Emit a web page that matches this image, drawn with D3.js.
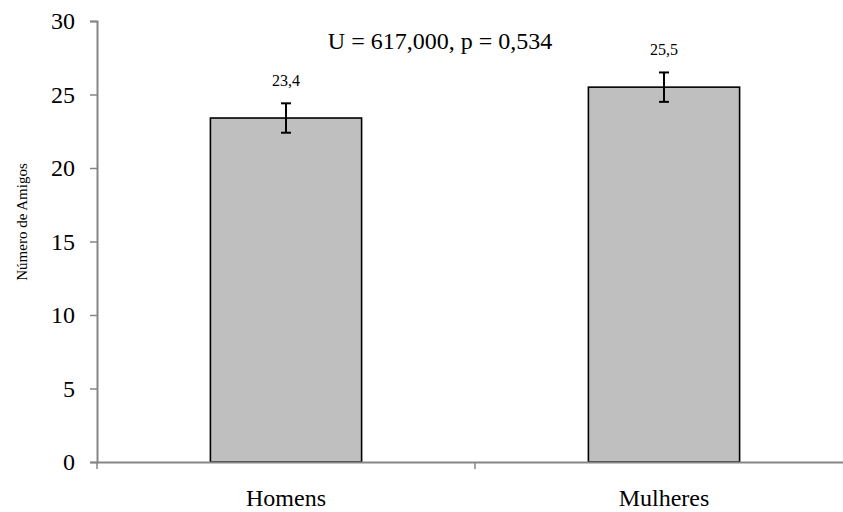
<!DOCTYPE html>
<html>
<head>
<meta charset="utf-8">
<script src="https://cdn.jsdelivr.net/npm/d3@7"></script>
<style>
  body { margin: 0; background: #fff; }
  svg text { font-family: "Liberation Serif", "Times New Roman", serif; fill: #000; }
</style>
</head>
<body>
<div id="chart"></div>
<script>
// dados
var categories = ["Homens", "Mulheres"];
var values = [23.4, 25.5];
var errors = [1.0, 1.0];
var valueLabels = ["23,4", "25,5"];
var yTicks = [0, 5, 10, 15, 20, 25, 30];
var yTitle = "Número de Amigos";
var statText = "U = 617,000, p = 0,534";

var width = 843, height = 512;
var mLeft = 97, mRight = 853, mTop = 21, mBottom = 462;

var svg = d3.select("#chart").append("svg")
  .attr("width", width)
  .attr("height", height);

var x = d3.scaleBand().domain(categories).range([mLeft, mRight]);
var y = d3.scaleLinear().domain([0, 30]).range([mBottom, mTop]);
var barW = x.bandwidth() * 0.4;
var axisColor = "#868686";

// eixo y
var yAxis = svg.append("g")
  .attr("transform", "translate(" + mLeft + ",0)")
  .call(d3.axisLeft(y).tickValues(yTicks).tickSize(7).tickPadding(15));
yAxis.select(".domain").attr("stroke", axisColor).attr("stroke-width", 2);
yAxis.selectAll(".tick line").attr("stroke", axisColor).attr("stroke-width", 1.5);
yAxis.selectAll(".tick text")
  .attr("font-size", 24)
  .attr("font-family", "Liberation Serif")
  .attr("fill", "#000");

// barras
svg.selectAll(".bar")
  .data(values)
  .enter().append("rect")
  .attr("class", "bar")
  .attr("x", function(d, i){ return x(categories[i]) + (x.bandwidth() - barW) / 2; })
  .attr("y", function(d){ return y(d); })
  .attr("width", barW)
  .attr("height", function(d){ return y(0) - y(d); })
  .attr("fill", "#bfbfbf")
  .attr("stroke", "#000")
  .attr("stroke-width", 1.6);

// eixo x
var xAxis = svg.append("g")
  .attr("transform", "translate(0," + mBottom + ")")
  .call(d3.axisBottom(x).tickSize(0).tickPadding(27));
xAxis.select(".domain").attr("stroke", axisColor).attr("stroke-width", 2);
xAxis.selectAll(".tick text")
  .attr("font-size", 24)
  .attr("font-family", "Liberation Serif")
  .attr("fill", "#000");
// marcas entre categorias
var boundaries = [mLeft, x(categories[1])];
svg.selectAll(".xsep")
  .data(boundaries)
  .enter().append("line")
  .attr("x1", function(d){ return d; })
  .attr("x2", function(d){ return d; })
  .attr("y1", mBottom)
  .attr("y2", mBottom + 7)
  .attr("stroke", axisColor)
  .attr("stroke-width", 1.5);

// barras de erro
var eb = svg.selectAll(".err")
  .data(values)
  .enter().append("g")
  .attr("class", "err")
  .attr("transform", function(d, i){ return "translate(" + (x(categories[i]) + x.bandwidth() / 2) + ",0)"; });
eb.append("line")
  .attr("y1", function(d, i){ return y(d + errors[i]); })
  .attr("y2", function(d, i){ return y(d - errors[i]); })
  .attr("stroke", "#000").attr("stroke-width", 2);
eb.append("line")
  .attr("x1", -5).attr("x2", 5)
  .attr("y1", function(d, i){ return y(d + errors[i]); })
  .attr("y2", function(d, i){ return y(d + errors[i]); })
  .attr("stroke", "#000").attr("stroke-width", 2);
eb.append("line")
  .attr("x1", -5).attr("x2", 5)
  .attr("y1", function(d, i){ return y(d - errors[i]); })
  .attr("y2", function(d, i){ return y(d - errors[i]); })
  .attr("stroke", "#000").attr("stroke-width", 2);
eb.append("text")
  .attr("text-anchor", "middle")
  .attr("y", function(d, i){ return y(d + errors[i]) - 17; })
  .attr("font-size", 16)
  .text(function(d, i){ return valueLabels[i]; });

// texto estatístico
svg.append("text")
  .attr("x", 440)
  .attr("y", 49)
  .attr("text-anchor", "middle")
  .attr("font-size", 24)
  .text(statText);

// título do eixo y
svg.append("text")
  .attr("transform", "translate(27,222) rotate(-90)")
  .attr("text-anchor", "middle")
  .attr("font-size", 15)
  .text(yTitle);
</script>
</body>
</html>
